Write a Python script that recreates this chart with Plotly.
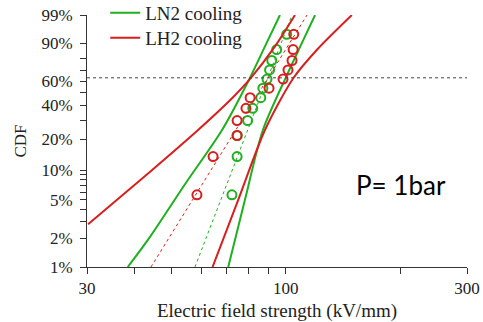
import numpy as np
import plotly.graph_objects as go

# ---------------- data ----------------
rank_pct = [5.65, 13.7, 21.8, 29.8, 37.9, 46.0, 54.0, 62.1, 70.2, 78.2, 86.3, 94.4]
ln2_field = [72.2, 74.5, 74.5, 79.4, 81.9, 86.0, 87.1, 89.3, 90.7, 91.9, 94.7, 100.6]
lh2_field = [58.4, 64.4, 74.5, 74.5, 78.6, 80.6, 90.4, 98.4, 101.4, 103.9, 104.6, 105.0]

fit_pct = [1, 99]
ln2_fit_field = [57.7, 103.9]
lh2_fit_field = [44.2, 113.8]

ln2_lower_pct = [1, 2.06, 7.46, 24.5, 63.1, 88.3, 99]
ln2_lower_field = [38.4, 43.9, 54.6, 68.0, 80.5, 88.2, 96.6]
ln2_upper_pct = [1, 5.0, 24.5, 63.9, 88.6, 99]
ln2_upper_field = [70.6, 78.1, 87.1, 100.2, 109.4, 119.5]

lh2_lower_pct = [2.80, 9.63, 24.5, 46.6, 63.1, 88.3, 99]
lh2_lower_field = [30.2, 43.9, 58.8, 72.8, 81.0, 93.7, 105.8]
lh2_upper_pct = [1, 5.0, 24.5, 62.8, 86.0, 99]
lh2_upper_field = [64.2, 75.0, 88.2, 104.7, 120.7, 149.3]

y_major_pct = [1, 2, 5, 10, 20, 40, 60, 90, 99]
y_major_text = ["1%", "2%", "5%", "10%", "20%", "40%", "60%", "90%", "99%"]
y_minor_pct = [3, 4, 6, 7, 8, 9, 30, 50, 70, 80]
x_major = [30, 100, 300]
x_major_text = ["30", "100", "300"]
x_minor = [40, 50, 60, 70, 80, 90, 200]
char_pct = 63.2

# ---------------- helpers ----------------
def weib(p):
    p = np.asarray(p, dtype=float) / 100.0
    return np.log(-np.log(1.0 - p))

GREEN = "#1fb01f"
RED = "#d81e1e"
SERIF = "Liberation Serif"
TXT = "#222222"
TICKFONT = dict(family=SERIF, size=17, color=TXT)

fig = go.Figure()

def add_series(name, color, legend_id, lo_x, lo_p, up_x, up_p, fit_x, pts_x):
    fig.add_trace(go.Scatter(x=lo_x, y=weib(lo_p), mode="lines", name=name,
                             line=dict(color=color, width=2, shape="spline", smoothing=0.8),
                             showlegend=True, legend=legend_id))
    fig.add_trace(go.Scatter(x=up_x, y=weib(up_p), mode="lines",
                             line=dict(color=color, width=2, shape="spline", smoothing=0.8),
                             showlegend=False))
    fig.add_trace(go.Scatter(x=fit_x, y=weib(fit_pct), mode="lines",
                             line=dict(color=color, width=1, dash="dot"),
                             showlegend=False))
    fig.add_trace(go.Scatter(x=pts_x, y=weib(rank_pct), mode="markers",
                             marker=dict(symbol="circle-open", size=9, color=color,
                                         line=dict(width=2, color=color)),
                             showlegend=False))

add_series("LN2 cooling", GREEN, "legend", ln2_lower_field, ln2_lower_pct, ln2_upper_field,
           ln2_upper_pct, ln2_fit_field, ln2_field)
add_series("LH2 cooling", RED, "legend2", lh2_lower_field, lh2_lower_pct, lh2_upper_field,
           lh2_upper_pct, lh2_fit_field, lh2_field)

fig.add_shape(type="line", xref="paper", x0=0, x1=1, yref="y",
              y0=float(weib([char_pct])[0]), y1=float(weib([char_pct])[0]),
              line=dict(color="#444444", width=1, dash="dot"))

fig.add_annotation(text="P= 1bar", xref="paper", yref="paper", x=0.825, y=0.325,
                   xanchor="center", yanchor="middle",
                   showarrow=False, font=dict(family="Lato", size=26, color="black"))

legend_common = dict(x=0.048, xanchor="left", yanchor="top",
                     bgcolor="rgba(0,0,0,0)", font=dict(family=SERIF, size=19, color=TXT))
leg_top = 1.08 + 1.0 / 252

fig.update_layout(
    width=483, height=322,
    margin=dict(l=87, r=16, t=15, b=55, autoexpand=False),
    paper_bgcolor="white", plot_bgcolor="white",
    font=dict(family=SERIF, size=17, color=TXT),
    legend=dict(y=leg_top, **legend_common),
    legend2=dict(y=leg_top - 25.0 / 252, **legend_common),
    xaxis=dict(type="log", range=[np.log10(30), np.log10(300)],
               tickvals=x_major, ticktext=x_major_text, tickfont=TICKFONT,
               ticks="outside", ticklen=6,
               tickcolor="#333", showline=True, linecolor="#333", linewidth=1,
               showgrid=False, zeroline=False,
               minor=dict(tickvals=x_minor, ticks="outside", ticklen=6, tickcolor="#333",
                          showgrid=False),
               title=dict(text="Electric field strength (kV/mm)", standoff=8,
                          font=dict(family=SERIF, size=19, color=TXT))),
    yaxis=dict(range=[float(weib([1])[0]), float(weib([99])[0])],
               tickvals=list(weib(y_major_pct)), ticktext=y_major_text, tickfont=TICKFONT,
               ticks="outside", ticklen=6, tickcolor="#333", ticklabelstandoff=4,
               showline=True, linecolor="#333", linewidth=1,
               showgrid=False, zeroline=False,
               minor=dict(tickvals=list(weib(y_minor_pct)), ticks="outside", ticklen=6,
                          tickcolor="#333", showgrid=False),
               title=dict(text="CDF", standoff=10, font=dict(family=SERIF, size=17, color=TXT))),
)

fig.write_html("out.html", config={"displayModeBar": False},
               post_script="document.body.style.margin='0px';")
